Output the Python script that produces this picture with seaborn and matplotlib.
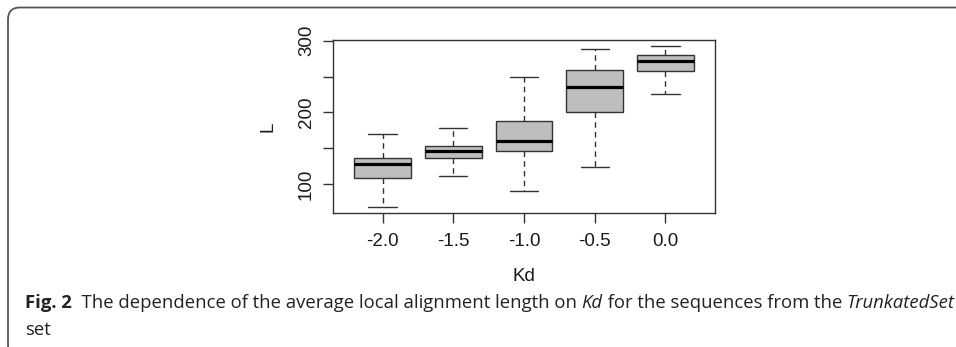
import numpy as np
import pandas as pd
import matplotlib
matplotlib.use("Agg")
import matplotlib.pyplot as plt
from matplotlib.patches import FancyBboxPatch
from matplotlib.transforms import IdentityTransform
import seaborn as sns

# Box summaries (L per Kd group)
kd_levels = ["-2.0", "-1.5", "-1.0", "-0.5", "0.0"]
l_min = [69, 112, 91, 124, 226]
l_q1 = [109, 137, 147, 201, 258]
l_median = [128, 147, 161, 236, 271]
l_q3 = [136, 153, 188, 259, 280]
l_max = [170, 179, 249, 289, 292]

y_ticks = [100, 150, 200, 250, 300]
y_tick_labels = ["100", "", "200", "", "300"]

caption_parts = [
    ("Fig. 2", "normal", "bold"),
    ("  The dependence of the average local alignment length on ", "normal", "normal"),
    ("Kd", "italic", "normal"),
    (" for the sequences from the ", "normal", "normal"),
    ("TrunkatedSet", "italic", "normal"),
]
caption_line2 = "set"

# five points per group reproduce min / quartiles / median / max exactly
rows = []
for kd, a, b, c, d, e in zip(kd_levels, l_min, l_q1, l_median, l_q3, l_max):
    for v in (a, b, c, d, e):
        rows.append({"Kd": kd, "L": v})
df = pd.DataFrame(rows)

sns.set_style("ticks")
plt.rcParams["font.family"] = ["Liberation Sans", "DejaVu Sans"]

W, H = 956, 347
fig = plt.figure(figsize=(W / 100, H / 100), dpi=100)
ax = fig.add_axes([333 / W, 1 - 212.7 / H, (715 - 333) / W, (212.7 - 40.3) / H])

line_col = "#333333"
sns.boxplot(
    data=df, x="Kd", y="L", order=kd_levels, ax=ax,
    whis=(0, 100), width=0.8, color="#bebebe", linecolor=line_col,
    linewidth=1.0, saturation=1,
    medianprops={"color": "black", "linewidth": 2.3},
    whiskerprops={"linestyle": (0, (4, 3))},
)

ax.set_xlim(-0.7, 4.7)
ax.set_ylim(60.5, 300.5)
ax.set_yticks(y_ticks)
ax.set_yticklabels(y_tick_labels, rotation=90, va="center")
for s in ax.spines.values():
    s.set_visible(True)
    s.set_color(line_col)
    s.set_linewidth(1.0)
ax.tick_params(axis="both", length=7, width=1.0, color=line_col,
               labelsize=13.5, labelcolor="#1a1a1a")
ax.tick_params(axis="y", pad=6)
ax.tick_params(axis="x", pad=7.5)

ax.set_xlabel("Kd", fontsize=13.5, color="#1a1a1a")
ax.set_ylabel("L", fontsize=13.5, color="#1a1a1a")
ax.xaxis.set_label_coords(0.5, -0.32)
ax.yaxis.set_label_coords(-0.147, 0.5)

# frame around the figure panel (right and bottom edges run off the image)
frame = FancyBboxPatch((8, -10), 1100, 349.5,
                       boxstyle="round,pad=0,rounding_size=12",
                       transform=IdentityTransform(), fill=False,
                       edgecolor="#555555", linewidth=1.3)
fig.patches.append(frame)

# caption, drawn piece by piece and scaled to span the panel width
renderer = fig.canvas.get_renderer()
cap_family = ["Open Sans", "DejaVu Sans"]
target_w = 949 - 25


def draw_caption(size):
    texts = []
    x = 25
    for txt, style, weight in caption_parts:
        t = fig.text(x / W, 1 - 308 / H, txt, fontsize=size, fontstyle=style,
                     fontweight=weight, family=cap_family, color="#222222",
                     va="baseline", ha="left")
        x = t.get_window_extent(renderer).x1
        texts.append(t)
    return texts, x - 25


texts, w = draw_caption(12)
size = 12 * target_w / w
for t in texts:
    t.remove()
draw_caption(size)
fig.text(25 / W, 1 - 335 / H, caption_line2, fontsize=size, family=cap_family,
         color="#222222", va="baseline", ha="left")

fig.savefig("out.png", dpi=100)
